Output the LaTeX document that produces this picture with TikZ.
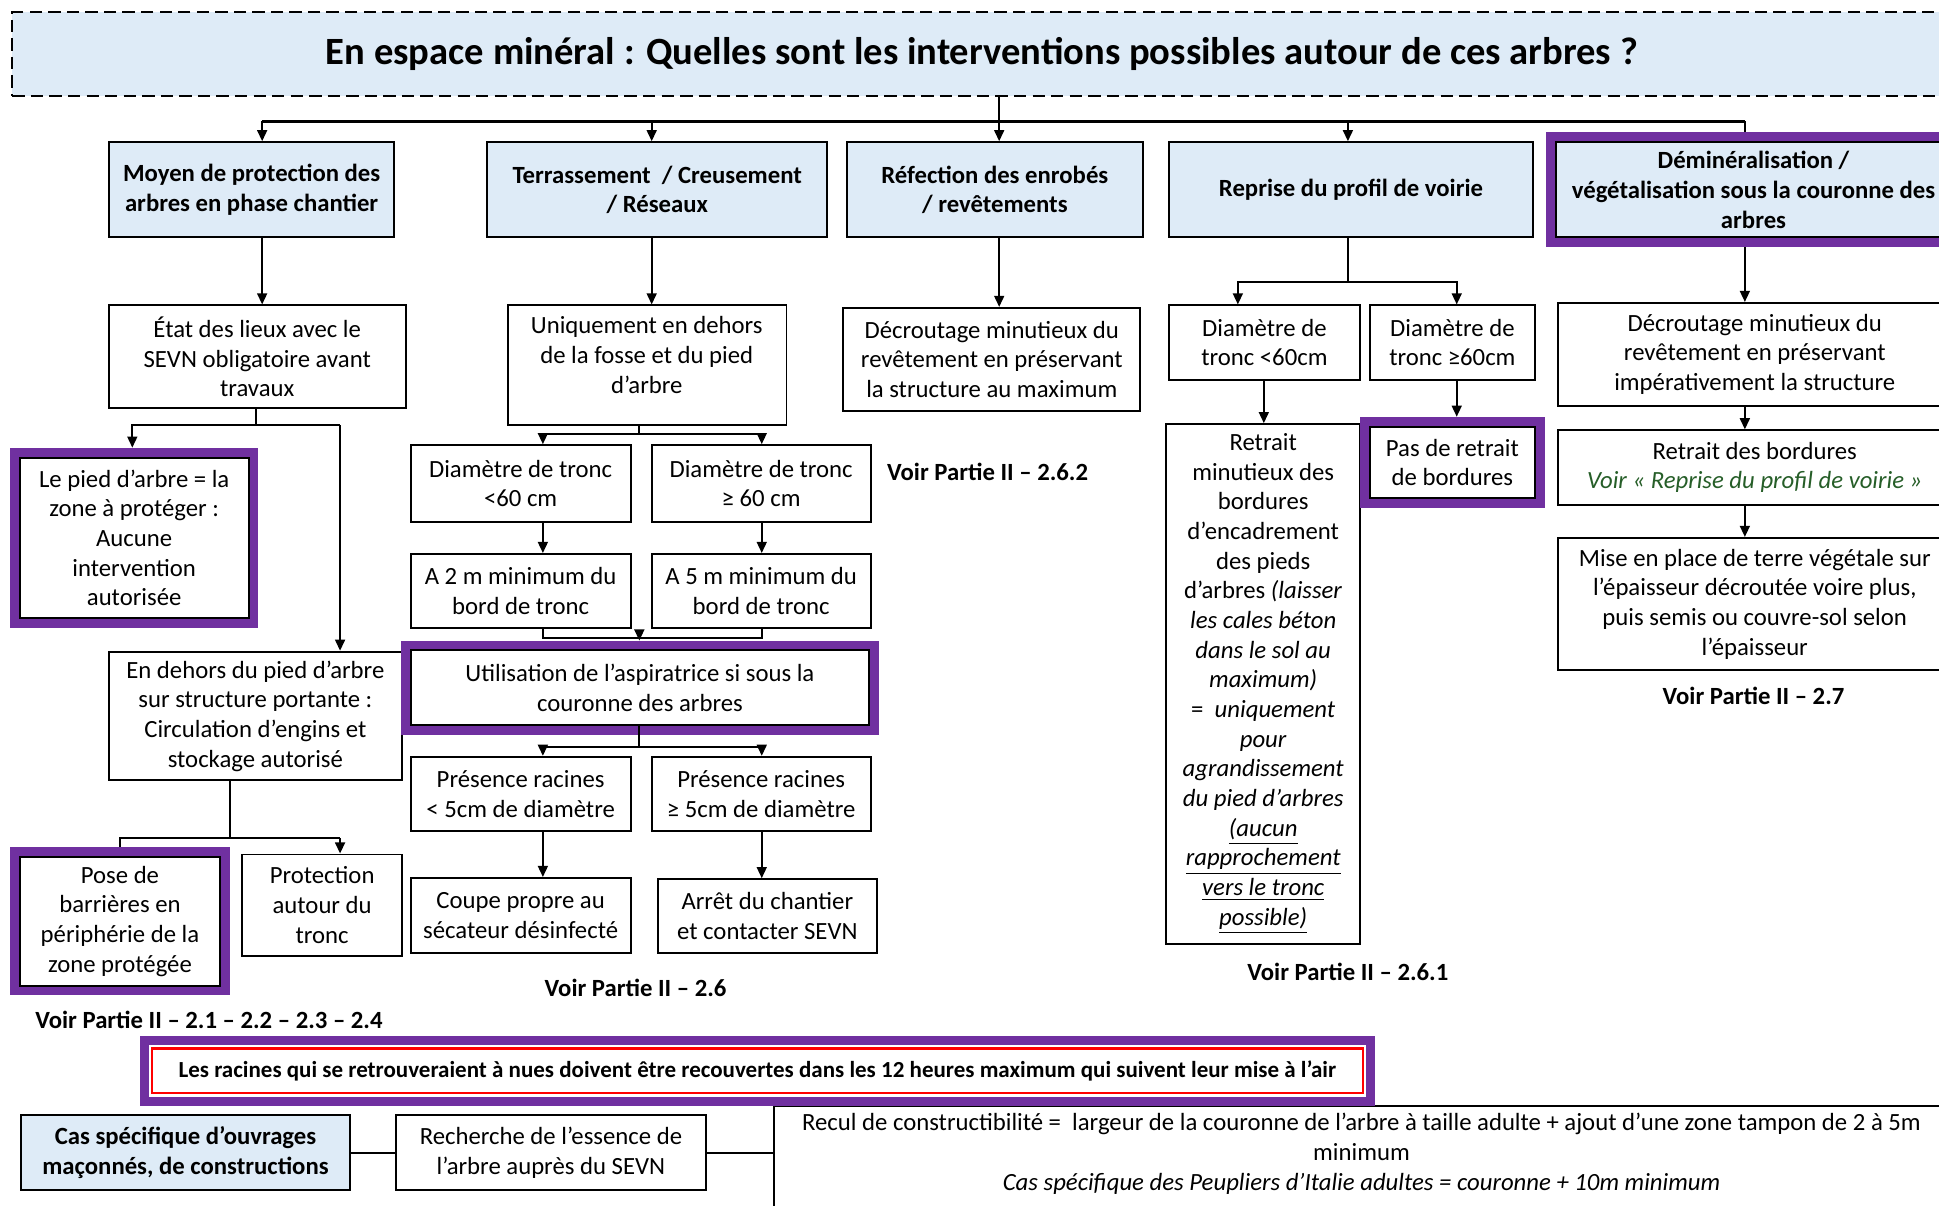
\documentclass[tikz,border=0pt]{standalone}
\usepackage{fontspec}
\setmainfont{Carlito}
\usetikzlibrary{fit,arrows.meta}
\definecolor{lblue}{RGB}{222,235,247}
\definecolor{purp}{RGB}{112,48,160}
\definecolor{dgreen}{RGB}{38,94,40}
\newcommand{\fsz}{\fontsize{10pt}{12pt}\selectfont}
\newcommand{\fbz}{\fontsize{10pt}{12pt}\selectfont\bfseries}
% box from corner (x1,y1) to (x2,y2) in picture units
\newcommand{\B}[7]{\node[#1, minimum width={((#4)-(#2))*0.5pt}, minimum height={((#5)-(#3))*0.5pt}] (#6) at ({((#2)+(#4))/2},{((#3)+(#5))/2}) {#7};}
\begin{document}
\begin{tikzpicture}[x=0.5pt,y=-0.5pt,
  bx/.style={draw, line width=0.8pt, fill=white, inner sep=0pt, align=center, font=\fsz},
  hd/.style={bx, fill=lblue, font=\fbz},
  pf/.style={draw=purp, line width=3.6pt, inner sep=1.8pt},
  ln/.style={line width=0.8pt},
  arr/.style={ln, -{Triangle[width=4pt,length=4.5pt]}},
  lbl/.style={font=\fbz, inner sep=0pt},
  txt/.style={font=\fsz, align=center, inner sep=0pt}]
\useasboundingbox (0,0) rectangle (1568,975);

% title
\B{draw, dash pattern=on 5pt off 2.5pt, line width=0.8pt, fill=lblue, inner sep=0pt, font=\fontsize{15.6pt}{18pt}\selectfont\bfseries}{10}{10}{1578}{78}{T}{En espace minéral : Quelles sont les interventions possibles autour de ces arbres ?}

% top row
\B{hd}{88}{115}{319}{192}{t1}{Moyen de protection des\\arbres en phase chantier}
\B{hd}{394}{115}{669}{192}{t2}{Terrassement~~/ Creusement\\/ Réseaux}
\B{hd}{685}{115}{924}{192}{t3}{Réfection des enrobés\\/ revêtements}
\B{hd}{945}{115}{1240}{192}{t4}{Reprise du profil de voirie}
\B{hd}{1258}{115}{1578}{192}{t5}{Déminéralisation /\\végétalisation sous la couronne des\\arbres}

% column 1
\B{bx}{88}{247}{328}{330}{c1a}{État des lieux avec le\\SEVN obligatoire avant\\travaux}
\B{bx}{16}{370}{201}{500}{c1b}{Le pied d’arbre = la\\zone à protéger :\\Aucune\\intervention\\autorisée}
\B{bx}{88}{527}{325}{631}{c1c}{En dehors du pied d’arbre\\sur structure portante :\\Circulation d’engins et\\stockage autorisé}
\B{bx}{16}{693}{178}{797}{c1d}{Pose de\\barrières en\\périphérie de la\\zone protégée}
\B{bx}{196}{691}{325}{773}{c1e}{Protection\\autour du\\tronc}
\node[lbl] (v1) at (169,825) {Voir Partie II – 2.1 – 2.2 – 2.3 – 2.4};

% column 2
\B{bx}{411}{247}{636}{344}{c2a}{}
\node[txt] (c2at) at (523,287) {Uniquement en dehors\\de la fosse et du pied\\d’arbre};
\B{bx}{332}{360}{510}{422}{c2b}{Diamètre de tronc\\<60 cm}
\B{bx}{527}{360}{704}{422}{c2c}{Diamètre de tronc\\≥ 60 cm}
\B{bx}{332}{448}{510}{508}{c2d}{A 2 m minimum du\\bord de tronc}
\B{bx}{527}{448}{704}{508}{c2e}{A 5 m minimum du\\bord de tronc}
\B{bx}{332}{526}{703}{586}{c2f}{Utilisation de l’aspiratrice si sous la\\couronne des arbres}
\B{bx}{332}{612}{510}{672}{c2g}{Présence racines\\< 5cm de diamètre}
\B{bx}{527}{612}{704}{672}{c2h}{Présence racines\\≥ 5cm de diamètre}
\B{bx}{332}{710}{510}{771}{c2i}{Coupe propre au\\sécateur désinfecté}
\B{bx}{532}{711}{709}{771}{c2j}{Arrêt du chantier\\et contacter SEVN}
\node[lbl] (v2) at (514,799) {Voir Partie II – 2.6};

% column 3
\B{bx}{682}{249}{922}{332}{c3a}{Décroutage minutieux du\\revêtement en préservant\\la structure au maximum}
\node[lbl, anchor=west] (v3) at (717,382) {Voir Partie II – 2.6.2};

% column 4
\B{bx}{945}{247}{1100}{307}{c4a}{Diamètre de\\tronc <60cm}
\B{bx}{1108}{247}{1241}{307}{c4b}{Diamètre de\\tronc ≥60cm}
\B{bx}{943}{343}{1100}{763}{c4c}{Retrait\\minutieux des\\bordures\\d’encadrement\\des pieds\\d’arbres \textit{(laisser}\\\textit{les cales béton}\\\textit{dans le sol au}\\\textit{maximum)}\\=~~\textit{uniquement}\\\textit{pour}\\\textit{agrandissement}\\\textit{du pied d’arbres}\\\textit{\underline{(aucun}}\\\textit{\underline{rapprochement}}\\\textit{\underline{vers le tronc}}\\\textit{\underline{possible)}}}
\B{bx}{1108}{345}{1241}{403}{c4d}{Pas de retrait\\de bordures}
\node[lbl] (v4) at (1090,786) {Voir Partie II – 2.6.1};

% column 5
\B{bx}{1260}{245}{1578}{328}{c5a}{Décroutage minutieux du\\revêtement en préservant\\impérativement la structure}
\B{bx}{1260}{348}{1578}{408}{c5b}{Retrait des bordures\\\textcolor{dgreen}{\textit{Voir « Reprise du profil de voirie »}}}
\B{bx}{1260}{435}{1578}{542}{c5c}{Mise en place de terre végétale sur\\l’épaisseur décroutée voire plus,\\puis semis ou couvre-sol selon\\l’épaisseur}
\node[lbl] (v5) at (1418,563) {Voir Partie II – 2.7};

% bottom
\B{draw=red, line width=1pt, inner sep=0pt, font=\fontsize{9.3pt}{11pt}\selectfont\bfseries}{123}{848}{1102}{884}{note}{Les racines qui se retrouveraient à nues doivent être recouvertes dans les 12 heures maximum qui suivent leur mise à l’air}
\B{hd}{17}{902}{283}{962}{cas}{Cas spécifique d’ouvrages\\maçonnés, de constructions}
\B{bx}{320}{902}{571}{962}{rch}{Recherche de l’essence de\\l’arbre auprès du SEVN}
\B{bx}{626}{894}{1600}{1010}{rc}{}
\node[txt] (rct) at (1101,933) {Recul de constructibilité =~~largeur de la couronne de l’arbre à taille adulte + ajout d’une zone tampon de 2 à 5m\\minimum\\\textit{Cas spécifique des Peupliers d’Italie adultes = couronne + 10m minimum}};

% purple frames
\node[pf, fit=(t5)] (ft5) {};
\node[pf, fit=(c1b)] (f1b) {};
\node[pf, fit=(c1d)] (f1d) {};
\node[pf, fit=(c2f)] (f2f) {};
\node[pf, fit=(c4d)] (f4d) {};
\node[pf, inner sep=2.7pt, fit=(note)] (fnote) {};

% bus
\coordinate (j0) at (808,98);
\coordinate (b1) at (212,98);
\coordinate (b2) at (527,98);
\coordinate (b4) at (1090,98);
\coordinate (b5) at (1411,98);
\draw[ln] (T.south -| j0) -- (j0);
\draw[line width=1.1pt] (b1) -- (b5);
\draw[arr] (b1) -- (b1 |- t1.north);
\draw[arr] (b2) -- (b2 |- t2.north);
\draw[arr] (j0) -- (j0 |- t3.north);
\draw[arr] (b4) -- (b4 |- t4.north);
\draw[ln] (b5) -- (b5 |- ft5.north);

% column 1 connectors
\coordinate (j1) at (207,344);
\coordinate (j1l) at (107,344);
\coordinate (j1r) at (275,344);
\draw[arr] (b1 |- t1.south) -- (b1 |- c1a.north);
\draw[ln] (j1 |- c1a.south) -- (j1);
\draw[arr] (j1r) -- (j1l) -- (j1l |- f1b.north);
\draw[arr] (j1r) -- (j1r |- c1c.north);
\coordinate (k1) at (186,678);
\coordinate (k1l) at (97,678);
\coordinate (k1r) at (275,678);
\draw[ln] (k1 |- c1c.south) -- (k1);
\draw[ln] (k1r) -- (k1l) -- (k1l |- f1d.north);
\draw[arr] (k1r) -- (k1r |- c1e.north);

% column 2 connectors
\coordinate (x2l) at (439,0);
\coordinate (x2r) at (616,0);
\coordinate (j2) at (517,351);
\coordinate (j3) at (517,516);
\coordinate (j4) at (517,604);
\draw[arr] (b2 |- t2.south) -- (b2 |- c2a.north);
\draw[ln] (j2 |- c2a.south) -- (j2);
\draw[arr] (j2) -| (x2l |- c2b.north);
\draw[arr] (j2) -| (x2r |- c2c.north);
\draw[arr] (x2l |- c2b.south) -- (x2l |- c2d.north);
\draw[arr] (x2r |- c2c.south) -- (x2r |- c2e.north);
\draw[ln] (x2l |- c2d.south) |- (j3);
\draw[ln] (x2r |- c2e.south) |- (j3);
\draw[arr] (j3) -- (j3 |- f2f.north);
\draw[ln] (j4 |- c2f.south) -- (j4);
\draw[arr] (j4) -| (x2l |- c2g.north);
\draw[arr] (j4) -| (x2r |- c2h.north);
\draw[arr] (x2l |- c2g.south) -- (x2l |- c2i.north);
\draw[arr] (x2r |- c2h.south) -- (x2r |- c2j.north);

% column 3 connectors
\draw[arr] (j0 |- t3.south) -- (j0 |- c3a.north);

% column 4 connectors
\coordinate (j5) at (1090,228);
\coordinate (x4l) at (1001,0);
\coordinate (x4r) at (1178,0);
\coordinate (x4c) at (1022,0);
\draw[ln] (b4 |- t4.south) -- (j5);
\draw[arr] (j5) -| (x4l |- c4a.north);
\draw[arr] (j5) -| (x4r |- c4b.north);
\draw[arr] (x4c |- c4a.south) -- (x4c |- c4c.north);
\draw[arr] (x4r |- c4b.south) -- (x4r |- f4d.north);

% column 5 connectors
\draw[arr] (b5 |- ft5.south) -- (b5 |- c5a.north);
\draw[arr] (b5 |- c5a.south) -- (b5 |- c5b.north);
\draw[arr] (b5 |- c5b.south) -- (b5 |- c5c.north);

% bottom connectors
\draw[ln] (cas.east) -- (rch.west);
\draw[ln] (rch.east) -- (rch.east -| rc.west);
\end{tikzpicture}
\end{document}
